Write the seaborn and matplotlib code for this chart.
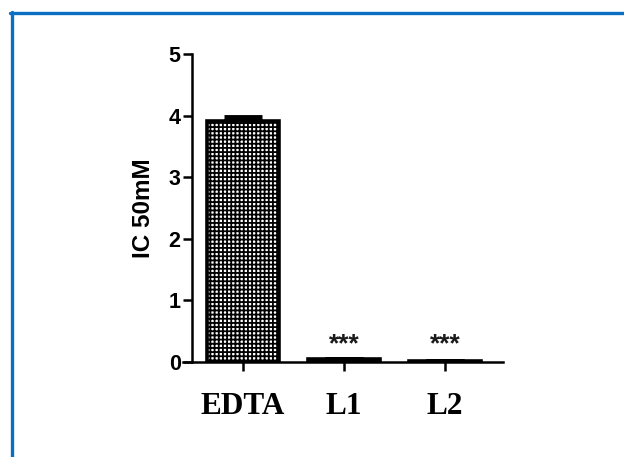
import numpy as np
import matplotlib
matplotlib.use("Agg")
import matplotlib.pyplot as plt
import seaborn as sns
import pandas as pd
from matplotlib.lines import Line2D

# values
groups = ["EDTA", "L1", "L2"]
ic50 = [3.92, 0.05, 0.01]
ic50_err = [0.05, 0.0, 0.0]
sig_labels = ["", "***", "***"]
yticks = [0, 1, 2, 3, 4, 5]

sns.set_style("ticks")
plt.rcParams["font.family"] = ["Liberation Sans", "DejaVu Sans"]
plt.rcParams["hatch.linewidth"] = 1.3
plt.rcParams["text.color"] = "black"
plt.rcParams["axes.labelcolor"] = "black"
plt.rcParams["xtick.color"] = "black"
plt.rcParams["ytick.color"] = "black"
plt.rcParams["axes.edgecolor"] = "black"

df = pd.DataFrame({"group": groups, "ic50": ic50})

fig = plt.figure(figsize=(6.24, 4.57), dpi=100)
W, H = 624, 457
ax = fig.add_axes([183 / W, (H - 362) / H, 320 / W, 308 / H])

sns.barplot(data=df, x="group", y="ic50", ax=ax, color="white",
            edgecolor="black", linewidth=2.6, width=0.72, errorbar=None)
for p in ax.patches:
    p.set_hatch("++++")

# error bar on top of each bar
ax.errorbar(np.arange(len(groups)), ic50, yerr=[np.zeros(3), ic50_err],
            fmt="none", ecolor="black", elinewidth=2.5, capsize=14, capthick=3.5)

# significance stars
for i, lab in enumerate(sig_labels):
    if lab:
        ax.text(i, 0.1, lab, ha="center", va="bottom", fontsize=19,
                fontweight="bold", color="#1a1a1a")

ax.set_xlim(-0.594, 2.574)
ax.set_ylim(0, 5)
ax.set_yticks(yticks)
ax.spines["left"].set_position(("data", -0.5))
ax.spines["left"].set_bounds(0, 5)
sns.despine(ax=ax)
for s in ["left", "bottom"]:
    ax.spines[s].set_linewidth(1.8)

ax.tick_params(axis="y", length=6.5, width=1.8, pad=2, labelsize=15.5)
ax.tick_params(axis="x", length=6.5, width=1.8, pad=15)
for t in ax.get_yticklabels():
    t.set_fontweight("bold")
for t in ax.get_xticklabels():
    t.set_fontfamily(["Liberation Serif", "DejaVu Serif"])
    t.set_fontweight("bold")
    t.set_fontsize(22.5)

ax.set_xlabel("")
ax.set_ylabel("IC 50mM", fontsize=17.5, fontweight="bold", labelpad=10)

# blue frame (top and left edges)
blue = "#0a6fc2"
fig.add_artist(Line2D([10 / W, 1], [(H - 13) / H, (H - 13) / H],
                      transform=fig.transFigure, color=blue, lw=2.4))
fig.add_artist(Line2D([11.5 / W, 11.5 / W], [0, (H - 12) / H],
                      transform=fig.transFigure, color=blue, lw=2.4))

fig.savefig("out.png", dpi=100)
